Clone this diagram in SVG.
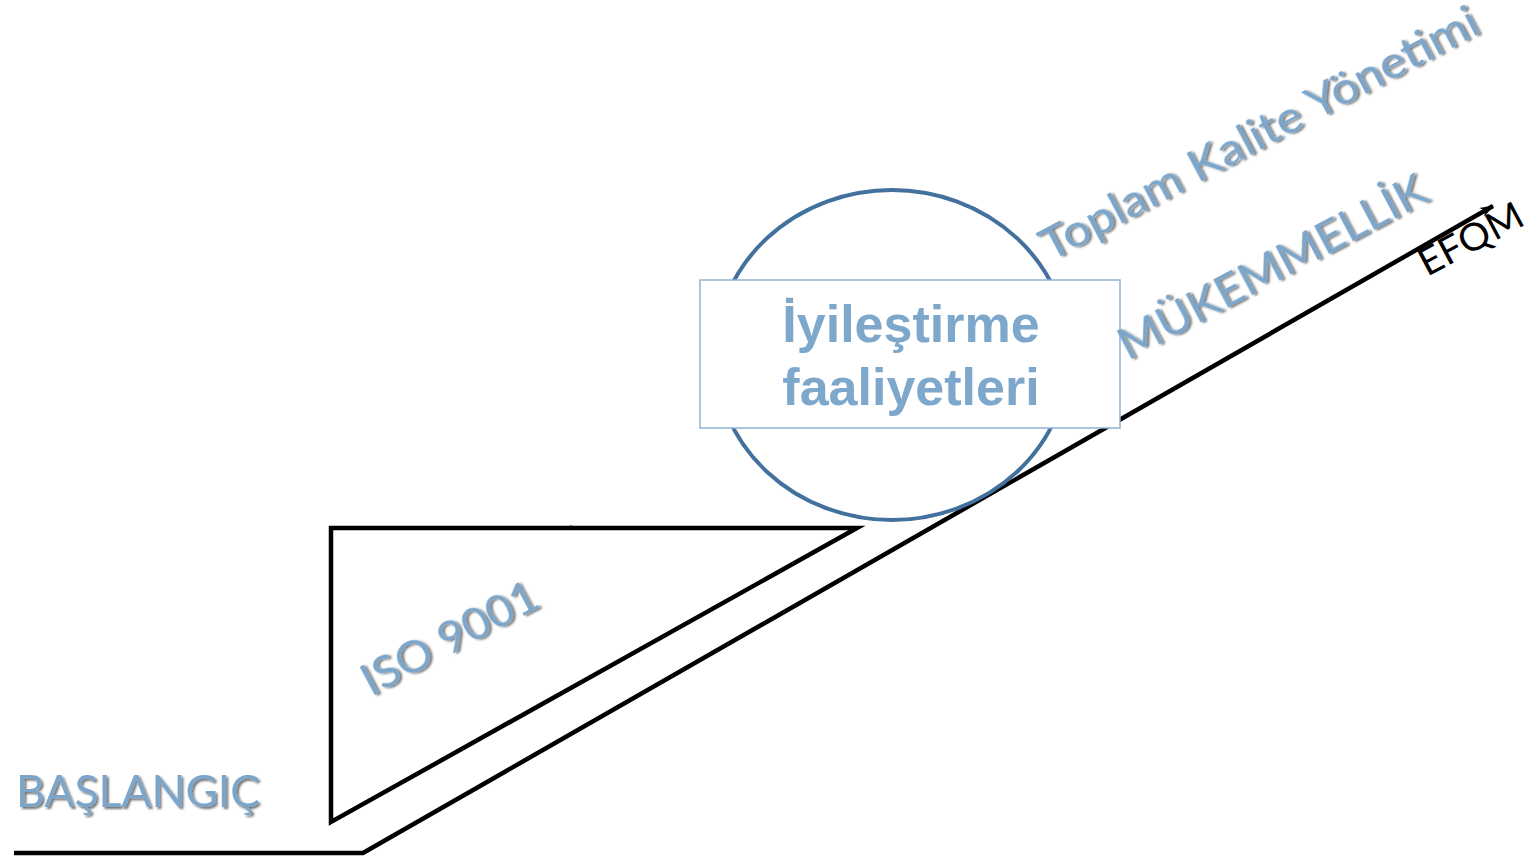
<svg xmlns="http://www.w3.org/2000/svg" width="1537" height="859" viewBox="0 0 1537 859">
<style>
.ln{fill:none;stroke:#000;stroke-width:4.5;stroke-linejoin:miter}
.lbl{font-family:Lato,"Open Sans","Liberation Sans",sans-serif;font-size:45px;fill:#7BA5CA;filter:url(#sh)}
.big{font-family:"Liberation Sans",Arial,sans-serif;font-weight:bold;font-size:52px;fill:#7DA7CB;text-anchor:middle}
.blk{font-family:Lato,"Open Sans","Liberation Sans",sans-serif;font-size:38px;fill:#000}
</style>
<defs>
<filter id="sh" x="-10%" y="-30%" width="120%" height="160%">
<feDropShadow dx="2" dy="2" stdDeviation="1" flood-color="#000" flood-opacity="0.55"/>
</filter>
<marker id="ah" markerWidth="14" markerHeight="10" refX="13" refY="5" orient="auto" markerUnits="userSpaceOnUse" viewBox="0 0 14 10">
<path d="M0,0 L14,5 L0,10 L4,5 Z" fill="#000"/>
</marker>
</defs>
<rect width="1537" height="859" fill="#fff"/>
<g id="connectors">
<path class="ln" d="M14,853 L363,853 L1493,206" marker-end="url(#ah)"/>
<path class="ln" d="M331,528 L857,528 L331,822 Z"/>
<path d="M567,529 L571,525 L574,529 Z" fill="#000"/>
</g>
<g id="circle">
<ellipse cx="892" cy="355" rx="177" ry="165" fill="none" stroke="#41719C" stroke-width="4"/>
</g>
<g id="box">
<rect x="700" y="280" width="420" height="148" fill="#fff" stroke="#8DB3D7" stroke-width="1.5"/>
<text class="big" x="911" y="342">İyileştirme</text>
<text class="big" x="911" y="405">faaliyetleri</text>
</g>
<g id="baslangic">
<text class="lbl" x="16" y="807" textLength="244" lengthAdjust="spacingAndGlyphs">BAŞLANGIÇ</text>
</g>
<g id="iso">
<text class="lbl" transform="translate(371,697) rotate(-28)" textLength="194" lengthAdjust="spacingAndGlyphs">ISO 9001</text>
</g>
<g id="tkm">
<text class="lbl" transform="translate(1050,262) rotate(-28)" textLength="490" lengthAdjust="spacingAndGlyphs">Toplam Kalite Yönetimi</text>
</g>
<g id="mukemmellik">
<text class="lbl" transform="translate(1128,361) rotate(-28)" textLength="343" lengthAdjust="spacingAndGlyphs">MÜKEMMELLİK</text>
</g>
<g id="efqm">
<text class="blk" transform="translate(1427,277) rotate(-28)" textLength="113" lengthAdjust="spacingAndGlyphs">EFQM</text>
</g>
</svg>
